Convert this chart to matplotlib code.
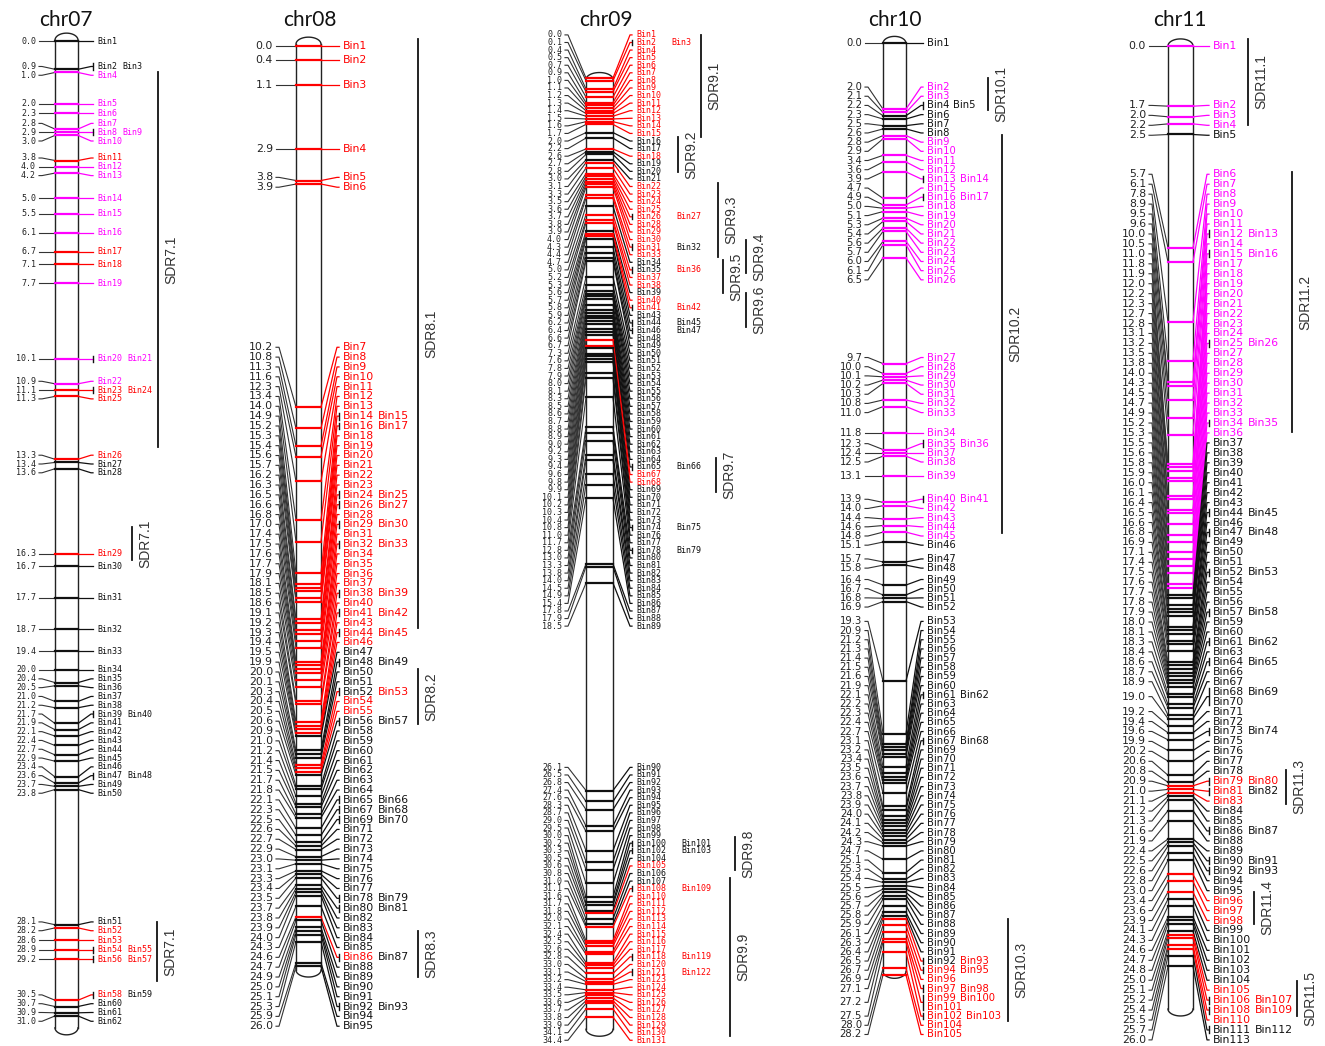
import numpy as np
import matplotlib
matplotlib.use("Agg")
import matplotlib.pyplot as plt

# colour codes per locus: k black, m magenta, r red; two letters = colour of each bin
# ---------------- chr07 ----------------
chr07_pos = [0.0, 0.9, 1.0, 2.0, 2.3, 2.8, 2.9, 3.0, 3.8, 4.0, 4.2, 5.0, 5.5, 6.1, 6.7, 7.1, 7.7,
             10.1, 10.9, 11.1, 11.3, 13.3, 13.4, 13.6, 16.3, 16.7, 17.7, 18.7, 19.4, 20.0, 20.4,
             20.5, 21.0, 21.2, 21.7, 21.9, 22.1, 22.4, 22.7, 22.9, 23.4, 23.6, 23.7, 23.8, 28.1,
             28.2, 28.6, 28.9, 29.2, 30.5, 30.7, 30.9, 31.0]
chr07_nbin = [1, 2, 1, 1, 1, 1, 2, 1, 1, 1, 1, 1, 1, 1, 1, 1, 1,
              2, 1, 2, 1, 1, 1, 1, 1, 1, 1, 1, 1, 1, 1,
              1, 1, 1, 2, 1, 1, 1, 1, 1, 1, 2, 1, 1, 1,
              1, 1, 2, 2, 2, 1, 1, 1]
chr07_col = ("k k m m m m m m r m m m m m r r m "
             "m m r r r k k r k k k k k k "
             "k k k k k k k k k k k k k k "
             "r r r r rk k k k").split()

# ---------------- chr08 ----------------
chr08_pos = [0.0, 0.4, 1.1, 2.9, 3.8, 3.9, 10.2, 10.8, 11.3, 11.6, 12.3, 13.4, 14.0, 14.9, 15.2,
             15.3, 15.4, 15.6, 15.7, 16.2, 16.3, 16.5, 16.6, 16.8,
             17.0, 17.4, 17.5, 17.6, 17.7, 17.9, 18.1, 18.5, 18.6, 19.1, 19.2, 19.3, 19.4, 19.5,
             19.9, 20.0, 20.1, 20.3, 20.4, 20.5, 20.6, 20.9, 21.0, 21.2, 21.4, 21.5,
             21.7, 21.8, 22.1, 22.3, 22.5, 22.6, 22.7, 22.9, 23.0, 23.1, 23.3, 23.4, 23.5, 23.7,
             23.8, 23.9, 24.0, 24.3, 24.6, 24.7, 24.9, 25.0, 25.1, 25.3, 25.9, 26.0]
chr08_nbin = [1, 1, 1, 1, 1, 1, 1, 1, 1, 1, 1, 1, 1, 2, 2, 1, 1, 1, 1, 1, 1, 2, 2, 1,
              2, 1, 2, 1, 1, 1, 1, 2, 1, 2, 1, 2, 1, 1, 2, 1, 1, 2, 1, 1, 2, 1, 1, 1, 1, 1,
              1, 1, 2, 2, 2, 1, 1, 1, 1, 1, 1, 1, 2, 2, 1, 1, 1, 1, 2, 1, 1, 1, 1, 2, 1, 1]
chr08_col = ("r r r r r r r r r r r r r r r r r r r r r r r r "
             "r r r r r r r r r r r r r k k k k kr r r k k k k k k "
             "k k k k k k k k k k k k k k k k k k rk k k k k k k k").split()

# ---------------- chr09 ----------------
chr09_pos = [0.0, 0.1, 0.4, 0.5, 0.7, 0.9, 1.0, 1.1, 1.2, 1.3, 1.4, 1.5, 1.6, 1.7, 2.0, 2.2, 2.6,
             2.7, 2.8, 3.0, 3.1, 3.3, 3.5, 3.6, 3.7, 3.8, 3.9, 4.0, 4.3, 4.4, 4.7, 5.0, 5.2, 5.3,
             5.6, 5.7, 5.8, 5.9,
             6.2, 6.4, 6.6, 6.7, 7.3, 7.6, 7.8, 7.9, 8.0, 8.1, 8.3, 8.5, 8.6, 8.7, 8.8, 8.9, 9.0,
             9.2, 9.3, 9.4, 9.6, 9.8, 9.9, 10.1, 10.2, 10.3, 10.4, 10.8, 11.0, 11.7, 12.8, 13.0,
             13.3, 13.8, 14.0, 14.5, 14.9, 15.4, 17.8, 17.9, 18.5,
             26.1, 26.5, 26.8, 27.4, 27.6, 28.3, 28.7, 29.0, 29.5, 30.0, 30.2, 30.3, 30.5, 30.6,
             30.8, 31.0, 31.1, 31.6, 31.7, 31.8, 32.0, 32.1, 32.4, 32.5, 32.6, 32.8, 33.0, 33.1,
             33.2, 33.4, 33.5, 33.6, 33.7, 33.8, 33.9, 34.1, 34.4]
chr09_nbin = ([1, 2] + [1] * 22 + [2, 1, 1, 1, 2, 1, 1, 2, 1, 1, 1, 1, 2, 1]
              + [2, 2] + [1] * 17 + [2] + [1] * 7 + [2, 1, 1, 2] + [1] * 10
              + [1] * 10 + [2, 2, 1, 1, 1, 1, 2] + [1] * 8 + [2, 1, 2] + [1] * 9)
chr09_col = ("r r r r r r r r r r r r r r k k r k k k r r r r r r r r rk r k kr r r k r r k "
             "k k k k k k k k k k k k k k k k k k k k r r k k k k k k k k k k k k k k k k k k k "
             "k k k k k k k k k k k k k r k k r r r r r r r r r r r r r r r r r r r r r").split()

# ---------------- chr10 ----------------
chr10_pos = [0.0, 2.0, 2.1, 2.2, 2.3, 2.5, 2.6, 2.8, 2.9, 3.4, 3.6, 3.9, 4.7, 4.9, 5.0, 5.1, 5.3,
             5.4, 5.6, 5.7, 6.0, 6.1, 6.5,
             9.7, 10.0, 10.1, 10.2, 10.3, 10.8, 11.0, 11.8, 12.3, 12.4, 12.5, 13.1, 13.9, 14.0,
             14.4, 14.6, 14.8, 15.1, 15.7, 15.8, 16.4, 16.7, 16.8, 16.9,
             19.3, 20.9, 21.2, 21.3, 21.4, 21.5, 21.6, 21.9, 22.1, 22.2, 22.3, 22.4, 22.7, 23.1,
             23.2, 23.4, 23.5, 23.6, 23.7, 23.8, 23.9, 24.0, 24.1, 24.2,
             24.3, 24.7, 25.1, 25.3, 25.4, 25.5, 25.6, 25.7, 25.8, 25.9, 26.1, 26.3, 26.4, 26.5,
             26.7, 26.9, 27.1, 27.2, 27.5, 28.0, 28.2]
chr10_nbin = ([1, 1, 1, 2, 1, 1, 1, 1, 1, 1, 1, 2, 1, 2, 1, 1, 1, 1, 1, 1, 1, 1, 1]
              + [1, 1, 1, 1, 1, 1, 1, 1, 2, 1, 1, 1, 2, 1, 1, 1, 1, 1, 1, 1, 1, 1, 1, 1]
              + [1, 1, 1, 1, 1, 1, 1, 1, 2, 1, 1, 1, 1, 2, 1, 1, 1, 1, 1, 1, 1, 1, 1, 1]
              + [1, 1, 1, 1, 1, 1, 1, 1, 1, 1, 1, 1, 1, 2, 2, 1, 2, 3, 2, 1, 1])
chr10_col = ("k m m k k k k m m m m m m m m m m m m m m m m "
             "m m m m m m m m m m m m m m m m m k k k k k k k "
             "k k k k k k k k k k k k k k k k k k k k k k k k "
             "k k k k k k k k k k k k k kr r r r r r r r").split()

# ---------------- chr11 ----------------
chr11_pos = [0.0, 1.7, 2.0, 2.2, 2.5, 5.7, 6.1, 7.8, 8.9, 9.5, 9.6, 10.0, 10.5, 11.0, 11.8, 11.9,
             12.0, 12.2, 12.3, 12.7, 12.8, 13.1, 13.2, 13.5, 13.8, 14.0, 14.3,
             14.5, 14.7, 14.9, 15.2, 15.3, 15.5, 15.6, 15.8, 15.9, 16.0, 16.1, 16.4, 16.5, 16.6,
             16.8, 16.9, 17.1, 17.4, 17.5, 17.6, 17.7, 17.8, 17.9, 18.0, 18.1, 18.3, 18.4,
             18.6, 18.7, 18.9, 19.0, 19.2, 19.4, 19.6, 19.9, 20.2, 20.6, 20.8, 20.9, 21.0, 21.1,
             21.2, 21.3, 21.6, 21.9, 22.4, 22.5, 22.6, 22.8, 23.0, 23.4, 23.6, 23.9, 24.1,
             24.3, 24.6, 24.7, 24.8, 25.0, 25.1, 25.2, 25.4, 25.5, 25.7, 26.0]
chr11_nbin = ([1, 1, 1, 1, 1, 1, 1, 1, 1, 1, 1, 2, 1, 2, 1, 1, 1, 1, 1, 1, 1, 1, 2, 1, 1, 1, 1]
              + [1, 1, 1, 2, 1, 1, 1, 1, 1, 1, 1, 1, 2, 1, 2, 1, 1, 1, 2, 1, 1, 1, 2, 1, 1, 2, 1]
              + [2, 1, 1, 3, 1, 1, 2, 1, 1, 1, 1, 2, 2, 1, 1, 1, 2, 1, 1, 2, 2, 1, 1, 1, 1, 1, 1]
              + [1, 1, 1, 1, 1, 1, 2, 2, 1, 2, 1])
chr11_col = ("m m m m k m m m m m m m m m m m m m m m m m m m m m m "
             "m m m m m k k k k k k k k k k k k k k k k k k k k k k "
             "k k k k k k k k k k k rr rk r k k k k k k k k k r r r k "
             "k k k k k r r r r k k").split()

# ---------------- SDR regions (cM) ----------------
sdr_chr = ["chr07"] * 3 + ["chr08"] * 3 + ["chr09"] * 9 + ["chr10"] * 3 + ["chr11"] * 5
sdr_name = ["SDR7.1", "SDR7.1", "SDR7.1", "SDR8.1", "SDR8.2", "SDR8.3",
            "SDR9.1", "SDR9.2", "SDR9.3", "SDR9.4", "SDR9.5", "SDR9.6", "SDR9.7", "SDR9.8", "SDR9.9",
            "SDR10.1", "SDR10.2", "SDR10.3", "SDR11.1", "SDR11.2", "SDR11.3", "SDR11.4", "SDR11.5"]
sdr_start = [1.0, 15.45, 28.0, -0.2, 17.6, 25.0,
             -1.58, 2.16, 3.85, 5.94, 6.67, 7.88, 13.92, 27.8, 29.3,
             1.06, 2.78, 26.5, -0.2, 3.56, 20.45, 23.9, 26.4]
sdr_end = [12.9, 16.5, 29.9, 16.45, 19.15, 26.3,
           2.16, 3.44, 6.56, 7.14, 7.88, 9.12, 15.16, 29.0, 35.1,
           2.03, 14.83, 29.6, 2.23, 10.9, 21.4, 24.8, 27.4]

# ---------------- layout (pixels) ----------------
W, H = 1325, 1046
sdr_x = [158, 132, 157, 418, 418, 418,
         701, 678, 718, 746, 723, 746, 716, 735, 730,
         988, 1002, 1008, 1248, 1292, 1286, 1254, 1297]

LAYOUT = {
    "chr07": dict(y0=41, s=31.45, bl=55, br=78, lx=40, rx=93, d=8.8, font="DejaVu Sans Mono",
                  fs=6.0, gap=5.5, bar=(-0.25, 31.6), tx=66),
    "chr08": dict(y0=46, s=35.4, bl=296, br=321, lx=277, rx=339, d=9.84, font="DejaVu Sans",
                  fs=7.8, gap=4, bar=(-0.25, 26.3), tx=310),
    "chr09": dict(y0=78, s=27.3, bl=586, br=613, lx=566, rx=632, d=7.58, font="DejaVu Sans Mono",
                  fs=6.0, gap=15, bar=(-0.2, 35.1), tx=606),
    "chr10": dict(y0=43, s=33.05, bl=883, br=906, lx=866, rx=923, d=9.18, font="DejaVu Sans",
                  fs=7.2, gap=4, bar=(-0.2, 28.3), tx=895),
    "chr11": dict(y0=46, s=35.4, bl=1168, br=1193, lx=1150, rx=1209, d=9.95, font="DejaVu Sans",
                  fs=7.8, gap=4, bar=(-0.2, 27.4), tx=1180),
}
COLORS = {"k": "#111111", "m": "#FF00FF", "r": "#FF0000"}

fig = plt.figure(figsize=(W / 100, H / 100), dpi=100)
renderer = fig.canvas.get_renderer()
axes = {}


def fit(targets, heights, a, b):
    # cluster top so that its first and last labels are displaced equally
    off_b = sum(heights[a:b])
    return (targets[a] + targets[b] - heights[a] / 2 - off_b - heights[b] / 2) / 2


def spread(targets, heights):
    clusters = []
    for i in range(len(targets)):
        clusters.append([i, i])
        while len(clusters) > 1:
            a0, a1 = clusters[-1]
            p0, p1 = clusters[-2]
            top = fit(targets, heights, a0, a1)
            ptop = fit(targets, heights, p0, p1)
            if ptop + sum(heights[p0:p1 + 1]) > top + 1e-9:
                clusters[-2] = [p0, a1]
                clusters.pop()
            else:
                break
    centers = []
    for c0, c1 in clusters:
        top = fit(targets, heights, c0, c1)
        off = 0.0
        for k in range(c0, c1 + 1):
            centers.append(top + off + heights[k] / 2)
            off += heights[k]
    return centers


def draw_chrom(name, pos, nbin, cols):
    L = LAYOUT[name]
    ax = fig.add_axes([0, 0, 1, 1], facecolor="none")
    ax.set_xlim(0, W)
    ax.set_ylim((H - L["y0"]) / L["s"], -L["y0"] / L["s"])
    ax.axis("off")
    axes[name] = ax
    px = 1.0 / L["s"]
    d = L["d"] * px
    bl, br, lx, rx = L["bl"], L["br"], L["lx"], L["rx"]

    # chromosome outline
    top, bot = L["bar"]
    r = 7 * px
    xc, hw = (bl + br) / 2, (br - bl) / 2
    t = np.linspace(0, np.pi, 40)
    ax.plot([bl, bl], [top + r, bot - r], color="#222", lw=1.0, zorder=1)
    ax.plot([br, br], [top + r, bot - r], color="#222", lw=1.0, zorder=1)
    ax.plot(xc + hw * np.cos(t), top + r - r * np.sin(t), color="#222", lw=1.0, zorder=1)
    ax.plot(xc + hw * np.cos(t), bot - r + r * np.sin(t), color="#222", lw=1.0, zorder=1)

    ax.text(L["tx"], (20 - L["y0"]) * px, name, ha="center", va="center",
            fontsize=15, family="Lato", color="#111")

    nlines = [int(np.ceil(n / 2)) for n in nbin]
    heights = [k * d for k in nlines]
    centers = spread(pos, heights)

    b = 1
    for p, n, code, yc, nl in zip(pos, nbin, cols, centers, nlines):
        names = ["Bin%d" % (b + j) for j in range(n)]
        b += n
        bcols = [code] * n if len(code) == 1 else list(code)
        lc = next((COLORS[c] for c in bcols if c != "k"), COLORS["k"])
        ax.plot([lx - 1, lx + 2, bl], [yc, yc, p], color="#333", lw=0.8, zorder=2)
        ax.plot([bl, br], [p, p], color=lc, lw=1.6, zorder=3)
        ax.plot([br, rx - 2, rx], [p, yc, yc], color=lc, lw=0.9, zorder=3)
        ax.text(lx - 4, yc, "%.1f" % p, ha="right", va="center", fontsize=L["fs"],
                family=L["font"], color="#222")
        ytop = yc - nl * d / 2
        if n > 1:
            ax.plot([rx, rx], [ytop + 0.15 * d, ytop + nl * d - 0.15 * d], color="#111",
                    lw=1.0, zorder=3)
        for li in range(nl):
            yl = ytop + (li + 0.5) * d
            x = rx + 4
            for j in range(2 * li, min(2 * li + 2, n)):
                tt = ax.text(x, yl, names[j], ha="left", va="center", fontsize=L["fs"],
                             family=L["font"], color=COLORS[bcols[j]])
                bb = tt.get_window_extent(renderer=renderer)
                x = bb.x1 + L["gap"]


draw_chrom("chr07", chr07_pos, chr07_nbin, chr07_col)
draw_chrom("chr08", chr08_pos, chr08_nbin, chr08_col)
draw_chrom("chr09", chr09_pos, chr09_nbin, chr09_col)
draw_chrom("chr10", chr10_pos, chr10_nbin, chr10_col)
draw_chrom("chr11", chr11_pos, chr11_nbin, chr11_col)

for c, nm, y1, y2, x in zip(sdr_chr, sdr_name, sdr_start, sdr_end, sdr_x):
    ax = axes[c]
    ax.plot([x, x], [y1, y2], color="#111", lw=1.3)
    ax.text(x + 13, (y1 + y2) / 2, nm, rotation=90, ha="center", va="center",
            fontsize=10, family="Liberation Sans", color="#333")

fig.savefig("out.png", dpi=100, facecolor="white")
